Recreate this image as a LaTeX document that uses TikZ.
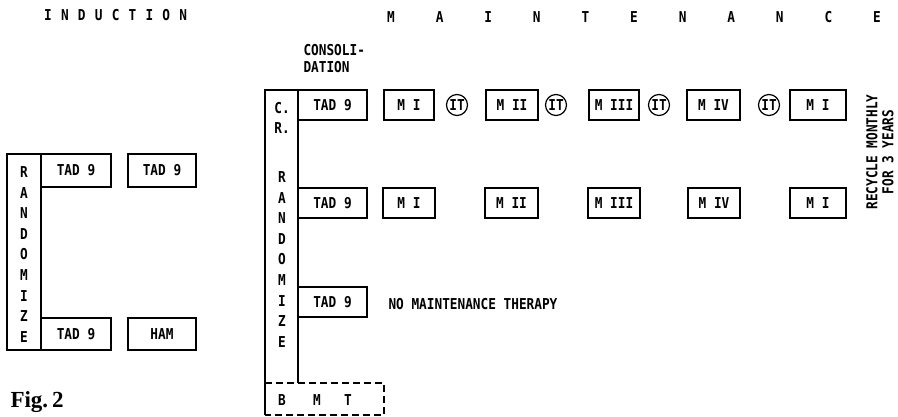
\documentclass[tikz,border=0pt]{standalone}
\usepackage{fontspec}
\newfontfamily\typefont[FakeStretch=0.85]{DejaVu Sans Mono}
\newfontfamily\figfont{Liberation Serif}
\tikzset{
  box/.style={draw,line width=1.4pt,inner sep=0pt,minimum height=30pt},
  itmark/.style={draw,circle,line width=1.2pt,inner sep=0pt,minimum size=21pt},
  frame/.style={line width=1.4pt},
  bmtline/.style={line width=1.4pt,dash pattern=on 7pt off 4pt},
}
\begin{document}
\begin{tikzpicture}[x=1pt,y=-1pt,font=\typefont\bfseries\fontsize{15}{16}\selectfont]
  \useasboundingbox (0,0) rectangle (898,417);
  % titles
  \foreach \ch [count=\i from 0] in {I,N,D,U,C,T,I,O,N}
    \node (ind-\i) at (48+16.9*\i,15) {\ch};
  \foreach \ch [count=\i from 0] in {M,A,I,N,T,E,N,A,N,C,E}
    \node (mnt-\i) at (391+48.6*\i,17) {\ch};
  \node[anchor=west,align=left,font=\typefont\bfseries\fontsize{15}{17}\selectfont] (consol) at (300,58.5) {CONSOLI-\\DATION};
  % induction
  \node[box,minimum width=34pt,minimum height=196pt] (ind-rand) at (24,252) {};
  \foreach \ch [count=\i from 0] in {R,A,N,D,O,M,I,Z,E}
    \node (ir-\i) at (24,172+20.6*\i) {\ch};
  \node[box,minimum width=70pt,minimum height=33pt] (ind-tad-a) at (76,170.5) {TAD 9};
  \node[box,minimum width=68pt,minimum height=33pt] (ind-tad-b) at (162,170.5) {TAD 9};
  \node[box,minimum width=70pt,minimum height=32pt] (ind-tad-c) at (76,334) {TAD 9};
  \node[box,minimum width=68pt,minimum height=32pt] (ind-ham) at (162,334) {HAM};
  % C.R. randomize frame and BMT
  \coordinate (cr-nw) at (265,90);
  \coordinate (cr-ne) at (298,90);
  \coordinate (cr-in) at (298,383);
  \coordinate (bmt-nw) at (265,383);
  \coordinate (bmt-ne) at (384,383);
  \coordinate (bmt-se) at (384,415);
  \coordinate (bmt-sw) at (265,415);
  \draw[bmtline] (bmt-nw) -- (bmt-ne) -- (bmt-se) -- (bmt-sw);
  \draw[frame] (bmt-sw) -- (cr-nw) -- (cr-ne) -- (cr-in);
  \node (cr-c) at (282,108) {C.};
  \node (cr-r) at (282,128) {R.};
  \foreach \ch [count=\i from 0] in {R,A,N,D,O,M,I,Z,E}
    \node (cr-\i) at (282,177+20.6*\i) {\ch};
  \node (bmt-b) at (282,400) {B};
  \node (bmt-m) at (317,400) {M};
  \node (bmt-t) at (348,400) {T};
  % maintenance with intrathecal
  \node[box,minimum width=69pt] (a-tad) at (332.5,105) {TAD 9};
  \node[box,minimum width=50pt] (a-m1) at (409,105) {M I};
  \node[itmark] (a-it1) at (457,105) {IT};
  \node[box,minimum width=52pt] (a-m2) at (512,105) {M II};
  \node[itmark] (a-it2) at (556,105) {IT};
  \node[box,minimum width=50pt] (a-m3) at (614,105) {M III};
  \node[itmark] (a-it3) at (659,105) {IT};
  \node[box,minimum width=53pt] (a-m4) at (713.5,105) {M IV};
  \node[itmark] (a-it4) at (769,105) {IT};
  \node[box,minimum width=56pt] (a-m5) at (818,105) {M I};
  % maintenance without
  \node[box,minimum width=69pt] (b-tad) at (332.5,203) {TAD 9};
  \node[box,minimum width=52pt] (b-m1) at (409,203) {M I};
  \node[box,minimum width=53pt] (b-m2) at (511.5,203) {M II};
  \node[box,minimum width=52pt] (b-m3) at (614,203) {M III};
  \node[box,minimum width=52pt] (b-m4) at (714,203) {M IV};
  \node[box,minimum width=56pt] (b-m5) at (818,203) {M I};
  % no maintenance
  \node[box,minimum width=69pt] (c-tad) at (332.5,302) {TAD 9};
  \node[anchor=west] (c-none) at (385,304) {NO MAINTENANCE THERAPY};
  \node[rotate=90,align=center] (recycle) at (880,152) {RECYCLE MONTHLY\\FOR 3 YEARS};
  \node[anchor=base west,font=\figfont\bfseries\fontsize{23}{23}\selectfont] (fig) at (7,407) {Fig.\,2};
\end{tikzpicture}
\end{document}
